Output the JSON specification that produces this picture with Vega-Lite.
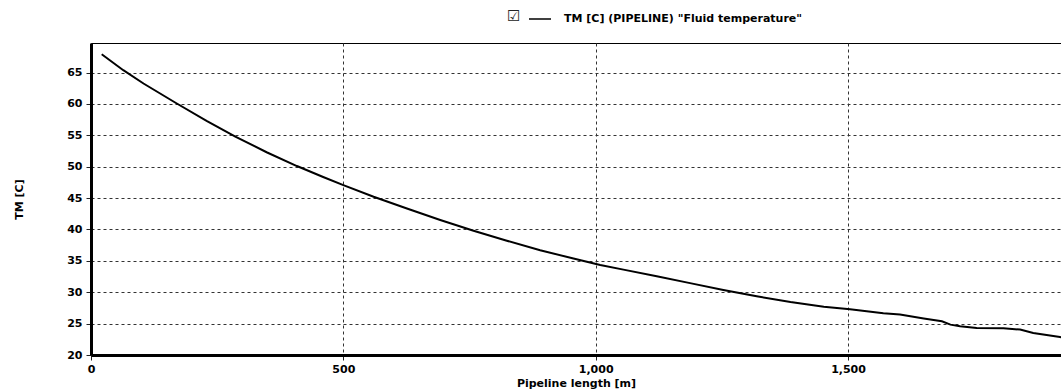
{
  "$schema": "https://vega.github.io/schema/vega-lite/v6.json",
  "width": 970,
  "height": 312,
  "autosize": {"type": "none"},
  "padding": {"left": 91, "top": 43, "right": 0, "bottom": 37},
  "background": "white",
  "config": {
    "view": {"stroke": "black", "strokeWidth": 1},
    "font": "DejaVu Sans",
    "axis": {
      "domainColor": "black",
      "domainWidth": 3,
      "tickColor": "#222222",
      "tickSize": 5,
      "labelFont": "DejaVu Sans",
      "labelFontWeight": "bold",
      "labelFontSize": 11,
      "labelColor": "black",
      "titleFont": "DejaVu Sans",
      "titleFontWeight": "bold",
      "titleFontSize": 11,
      "titleColor": "black",
      "gridColor": "#333333",
      "gridDash": [3, 3],
      "gridWidth": 1,
      "gridOpacity": 1
    }
  },
  "data": {
    "values": [
      {"m": 21.2, "v": 67.9, "series": "TM [C] (PIPELINE) \"Fluid temperature\""},
      {"m": 64, "v": 65.37, "series": "TM [C] (PIPELINE) \"Fluid temperature\""},
      {"m": 104, "v": 63.25, "series": "TM [C] (PIPELINE) \"Fluid temperature\""},
      {"m": 170, "v": 60.06, "series": "TM [C] (PIPELINE) \"Fluid temperature\""},
      {"m": 229, "v": 57.3, "series": "TM [C] (PIPELINE) \"Fluid temperature\""},
      {"m": 286, "v": 54.8, "series": "TM [C] (PIPELINE) \"Fluid temperature\""},
      {"m": 348, "v": 52.3, "series": "TM [C] (PIPELINE) \"Fluid temperature\""},
      {"m": 408, "v": 50.1, "series": "TM [C] (PIPELINE) \"Fluid temperature\""},
      {"m": 460, "v": 48.35, "series": "TM [C] (PIPELINE) \"Fluid temperature\""},
      {"m": 500, "v": 47.05, "series": "TM [C] (PIPELINE) \"Fluid temperature\""},
      {"m": 560, "v": 45.2, "series": "TM [C] (PIPELINE) \"Fluid temperature\""},
      {"m": 626, "v": 43.33, "series": "TM [C] (PIPELINE) \"Fluid temperature\""},
      {"m": 692, "v": 41.5, "series": "TM [C] (PIPELINE) \"Fluid temperature\""},
      {"m": 758, "v": 39.8, "series": "TM [C] (PIPELINE) \"Fluid temperature\""},
      {"m": 824, "v": 38.2, "series": "TM [C] (PIPELINE) \"Fluid temperature\""},
      {"m": 890, "v": 36.7, "series": "TM [C] (PIPELINE) \"Fluid temperature\""},
      {"m": 956, "v": 35.36, "series": "TM [C] (PIPELINE) \"Fluid temperature\""},
      {"m": 1009, "v": 34.35, "series": "TM [C] (PIPELINE) \"Fluid temperature\""},
      {"m": 1055, "v": 33.6, "series": "TM [C] (PIPELINE) \"Fluid temperature\""},
      {"m": 1121, "v": 32.54, "series": "TM [C] (PIPELINE) \"Fluid temperature\""},
      {"m": 1187, "v": 31.45, "series": "TM [C] (PIPELINE) \"Fluid temperature\""},
      {"m": 1253, "v": 30.35, "series": "TM [C] (PIPELINE) \"Fluid temperature\""},
      {"m": 1319, "v": 29.35, "series": "TM [C] (PIPELINE) \"Fluid temperature\""},
      {"m": 1386, "v": 28.45, "series": "TM [C] (PIPELINE) \"Fluid temperature\""},
      {"m": 1452, "v": 27.7, "series": "TM [C] (PIPELINE) \"Fluid temperature\""},
      {"m": 1504, "v": 27.3, "series": "TM [C] (PIPELINE) \"Fluid temperature\""},
      {"m": 1570, "v": 26.65, "series": "TM [C] (PIPELINE) \"Fluid temperature\""},
      {"m": 1603, "v": 26.44, "series": "TM [C] (PIPELINE) \"Fluid temperature\""},
      {"m": 1650, "v": 25.8, "series": "TM [C] (PIPELINE) \"Fluid temperature\""},
      {"m": 1686, "v": 25.37, "series": "TM [C] (PIPELINE) \"Fluid temperature\""},
      {"m": 1703, "v": 24.84, "series": "TM [C] (PIPELINE) \"Fluid temperature\""},
      {"m": 1722, "v": 24.57, "series": "TM [C] (PIPELINE) \"Fluid temperature\""},
      {"m": 1755, "v": 24.3, "series": "TM [C] (PIPELINE) \"Fluid temperature\""},
      {"m": 1808, "v": 24.25, "series": "TM [C] (PIPELINE) \"Fluid temperature\""},
      {"m": 1841, "v": 24.05, "series": "TM [C] (PIPELINE) \"Fluid temperature\""},
      {"m": 1867, "v": 23.5, "series": "TM [C] (PIPELINE) \"Fluid temperature\""},
      {"m": 1920, "v": 22.87, "series": "TM [C] (PIPELINE) \"Fluid temperature\""},
      {"m": 1935, "v": 22.65, "series": "TM [C] (PIPELINE) \"Fluid temperature\""}
    ]
  },
  "mark": {"type": "line", "strokeWidth": 2, "clip": true},
  "encoding": {
    "x": {
      "field": "m",
      "type": "quantitative",
      "title": "Pipeline length [m]",
      "scale": {"domain": [0, 1922], "nice": false, "zero": false},
      "axis": {"values": [0, 500, 1000, 1500], "format": ",.0f", "labelPadding": 3, "titlePadding": 3, "labelFlush": false}
    },
    "y": {
      "field": "v",
      "type": "quantitative",
      "title": "TM [C]",
      "scale": {"domain": [20, 69.7], "nice": false, "zero": false},
      "axis": {"values": [20, 25, 30, 35, 40, 45, 50, 55, 60, 65], "labelPadding": 4, "titlePadding": 42, "labelFlush": false}
    },
    "color": {
      "field": "series",
      "type": "nominal",
      "scale": {"range": ["black"]},
      "legend": {
        "orient": "none",
        "legendX": 416,
        "legendY": -36,
        "title": "☑",
        "titleOrient": "left",
        "titleFont": "DejaVu Sans",
        "titleFontSize": 15,
        "titleFontWeight": "normal",
        "titleColor": "#222222",
        "titlePadding": 7,
        "symbolType": "stroke",
        "symbolSize": 484,
        "symbolStrokeWidth": 1.5,
        "labelOffset": 12,
        "labelFont": "DejaVu Sans",
        "labelFontWeight": "bold",
        "labelFontSize": 11,
        "labelColor": "black",
        "labelLimit": 400
      }
    }
  }
}
